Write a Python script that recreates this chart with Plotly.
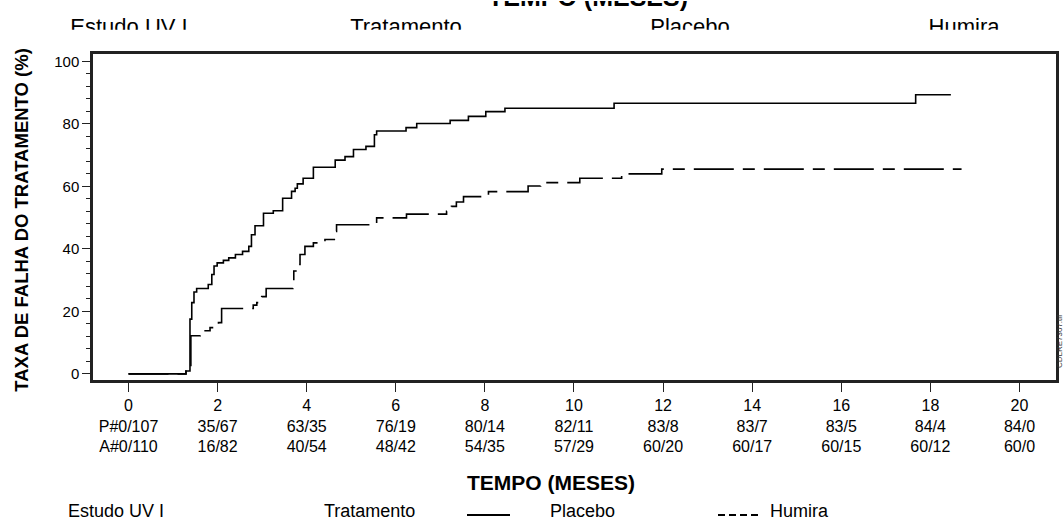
import plotly.graph_objects as go

# ---------------- data ----------------
months = [0, 2, 4, 6, 8, 10, 12, 14, 16, 18, 20]
placebo_at_risk = ["P#0/107", "35/67", "63/35", "76/19", "80/14", "82/11",
                   "83/8", "83/7", "83/5", "84/4", "84/0"]
humira_at_risk = ["A#0/110", "16/82", "40/54", "48/42", "54/35", "57/29",
                  "60/20", "60/17", "60/15", "60/12", "60/0"]

placebo_x = [0, 1.29, 1.38, 1.42, 1.47, 1.53, 1.79, 1.87, 1.92, 1.99, 2.13, 2.25,
             2.40, 2.56, 2.70, 2.76, 2.84, 3.03, 3.25, 3.46, 3.66, 3.74, 3.79, 3.92,
             4.15, 4.64, 4.86, 5.05, 5.33, 5.52, 5.57, 6.23, 6.47, 7.22, 7.63, 8.02,
             8.45, 10.90, 17.67, 18.46]
placebo_y = [0, 0.9, 17.5, 22.8, 26.2, 27.3, 28.6, 31.8, 34.5, 35.5, 36.3, 37.1,
             38.2, 39.2, 40.8, 44.5, 47.4, 51.4, 52.2, 56.2, 58.4, 59.4, 60.8, 62.6,
             66.1, 68.4, 69.5, 71.8, 72.8, 76.5, 77.7, 78.8, 80.1, 81.1, 82.4, 83.9,
             85.0, 86.6, 89.3, 89.3]

humira_x = [0, 1.29, 1.40, 1.61, 1.72, 1.83, 1.92, 2.02, 2.09, 2.80, 2.88, 2.99,
            3.09, 3.69, 3.71, 3.78, 3.85, 3.96, 4.15, 4.41, 4.64, 4.67, 5.57, 6.24,
            7.14, 7.25, 7.36, 7.52, 8.08, 8.97, 9.25, 10.13, 11.07, 11.97, 18.70]
humira_y = [0, 0.9, 12.2, 13.3, 13.8, 14.8, 15.5, 16.4, 20.9, 22.0, 22.8, 24.7,
            27.3, 28.3, 32.9, 35.0, 38.2, 40.8, 41.9, 43.0, 45.6, 47.7, 49.9, 51.1,
            52.0, 53.6, 55.0, 56.7, 58.3, 60.1, 61.2, 62.6, 64.0, 65.5, 65.5]

y_ticks = [0, 20, 40, 60, 80, 100]

top_row_labels = ["Estudo UV I", "Tratamento", "Placebo", "Humira"]
top_row_pos = [129, 406, 690, 964]

# ---------------- layout helpers ----------------
W, H = 1064, 525
FONT = "Liberation Sans, Arial, Helvetica, sans-serif"


def pxx(x):
    return x / W


def pxy(y):
    return 1 - y / H


tick_text = [f"{m}<br>{p}<br>{a}" for m, p, a in zip(months, placebo_at_risk, humira_at_risk)]

fig = go.Figure()
fig.add_trace(go.Scatter(x=placebo_x, y=placebo_y, mode="lines", name="Placebo",
                         line=dict(shape="hv", color="black", width=1.6),
                         showlegend=False))
fig.add_trace(go.Scatter(x=humira_x, y=humira_y, mode="lines", name="Humira",
                         line=dict(shape="hv", color="black", width=1.6,
                                   dash="40px,9px,12px,9px"),
                         showlegend=False))

# clipped scan fragment at the top (second, invisible subplot)
fig.add_trace(go.Scatter(x=top_row_pos, y=[28] * len(top_row_pos), mode="text",
                         text=top_row_labels, textposition="middle center",
                         textfont=dict(family=FONT, size=22, color="black"),
                         cliponaxis=True, xaxis="x2", yaxis="y2", showlegend=False,
                         hoverinfo="skip"))
fig.add_trace(go.Scatter(x=[588], y=[-1], mode="text",
                         text=["<b>TEMPO (MESES)</b>"], textposition="middle center",
                         textfont=dict(family=FONT, size=25, color="black"),
                         cliponaxis=True, xaxis="x2", yaxis="y2", showlegend=False,
                         hoverinfo="skip"))

fig.update_layout(
    width=W, height=H,
    margin=dict(l=0, r=0, t=0, b=0),
    paper_bgcolor="white", plot_bgcolor="white",
    font=dict(family=FONT, color="black"),
    xaxis=dict(domain=[pxx(93), pxx(1056)], range=[-0.797, 20.82],
               tickmode="array", tickvals=months, ticktext=tick_text,
               ticks="outside", ticklen=9, tickwidth=1.2, tickcolor="#222",
               tickfont=dict(family=FONT, size=16, color="black"),
               showgrid=False, zeroline=False,
               showline=True, mirror=True, linewidth=2.5, linecolor="#222",
               anchor="y"),
    yaxis=dict(domain=[pxy(381), pxy(53)], range=[-1.91, 102.45],
               tickmode="array", tickvals=y_ticks,
               ticks="outside", ticklen=8, tickwidth=1.2, tickcolor="#222",
               minor=dict(dtick=4, tick0=0, ticks="outside", ticklen=4, tickcolor="#222", tickwidth=1),
               tickfont=dict(family=FONT, size=15, color="black"),
               showgrid=False, zeroline=False,
               showline=True, mirror=True, linewidth=2.5, linecolor="#222",
               anchor="x"),
    xaxis2=dict(domain=[0, 1], range=[0, W], visible=False, anchor="y2"),
    yaxis2=dict(domain=[pxy(29), 1], range=[29, 0], visible=False, anchor="x2"),
    showlegend=False,
)

annotations = [
    dict(text="<b>TAXA DE FALHA DO TRATAMENTO (%)</b>", x=pxx(22), y=pxy(220),
         xanchor="center", yanchor="middle",
         textangle=-90, font=dict(family=FONT, size=18.5, color="black")),
    dict(text="<b>TEMPO (MESES)</b>", x=pxx(551), y=pxy(484),
         xanchor="center", yanchor="middle",
         font=dict(family=FONT, size=21, color="black")),
    dict(text="Estudo UV I", x=pxx(66), y=pxy(513), xanchor="left", yanchor="middle",
         font=dict(family=FONT, size=18, color="black")),
    dict(text="Tratamento", x=pxx(322), y=pxy(513), xanchor="left", yanchor="middle",
         font=dict(family=FONT, size=18, color="black")),
    dict(text="Placebo", x=pxx(548), y=pxy(513), xanchor="left", yanchor="middle",
         font=dict(family=FONT, size=18, color="black")),
    dict(text="Humira", x=pxx(768), y=pxy(513), xanchor="left", yanchor="middle",
         font=dict(family=FONT, size=18, color="black")),
    dict(text="CDLRE7307.tif", x=pxx(1059), y=pxy(342), textangle=-90,
         xanchor="center", yanchor="middle",
         font=dict(family=FONT, size=8, color="#333")),
]
for a in annotations:
    a.update(xref="paper", yref="paper", showarrow=False)
fig.update_layout(annotations=annotations)

fig.update_layout(shapes=[
    dict(type="line", xref="paper", yref="paper", x0=pxx(467), x1=pxx(510),
         y0=pxy(517), y1=pxy(517), line=dict(color="black", width=2)),
    dict(type="line", xref="paper", yref="paper", x0=pxx(718), x1=pxx(761),
         y0=pxy(517), y1=pxy(517), line=dict(color="black", width=2, dash="7px,4px")),
])

fig.write_html("out.html", config={"displayModeBar": False},
               post_script="document.body.style.margin='0';")
